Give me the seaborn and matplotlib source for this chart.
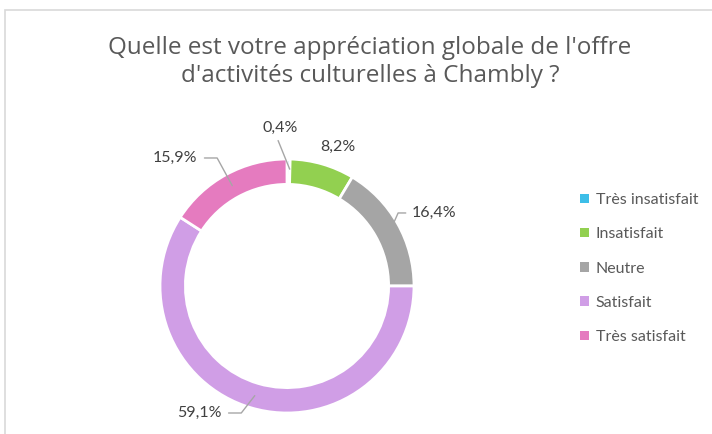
import numpy as np
import matplotlib
matplotlib.use("Agg")
import matplotlib.pyplot as plt
from matplotlib.patches import Patch, Rectangle
import seaborn as sns

# Data
categories = ["Très insatisfait", "Insatisfait", "Neutre", "Satisfait", "Très satisfait"]
values = [0.4, 8.2, 16.4, 59.1, 15.9]
labels = ["0,4%", "8,2%", "16,4%", "59,1%", "15,9%"]
colors = ["#3DBEE8", "#92D050", "#A5A5A5", "#D09EE6", "#E57BBF"]

sns.set_theme(style="white")
plt.rcParams["font.family"] = ["Lato", "DejaVu Sans"]

W, H = 712, 434
fig = plt.figure(figsize=(W / 100, H / 100), dpi=100)

# chart border (light gray frame)
fig.patches.append(Rectangle((5 / W, -0.1), 1.1, (H - 10) / H + 0.1, transform=fig.transFigure,
                             fill=False, edgecolor="#D9D9D9", linewidth=1.2))

# donut axes: center (287, 286) px, radius 127 px
cx, cy, r = 287, H - 286, 127
ax = fig.add_axes([(cx - r) / W, (cy - r) / H, 2 * r / W, 2 * r / H])
wedges, _ = ax.pie(values, colors=colors, startangle=90, counterclock=False, radius=1,
                   wedgeprops=dict(width=0.2, edgecolor="white", linewidth=2))
ax.set_xlim(-1, 1)
ax.set_ylim(-1, 1)
ax.set_aspect("equal")
ax.axis("off")

# label positions (data coords) and leader lines
lab_pos = [(-0.05, 1.245), (0.40, 1.094), (1.155, 0.575), (-0.69, -1.0), (-0.88, 1.008)]
line_col = "#A6A6A6"
for w, lab, (lx, ly), v in zip(wedges, labels, lab_pos, values):
    ax.text(lx, ly, lab, ha="center", va="center", fontsize=11.5, color="#404040", clip_on=False)
    ang = np.deg2rad((w.theta1 + w.theta2) / 2)
    ax_, ay_ = 0.9 * np.cos(ang), 0.9 * np.sin(ang)
    if lab == "8,2%":
        continue
    if lab == "0,4%":
        xs, ys = [ax_ + 0.01, lx - 0.02], [ay_ + 0.02, ly - 0.1]
    elif lx > 0:
        ex = lx - 0.22
        xs, ys = [ax_ + 0.06, ex - 0.06, ex], [ay_ + 0.06, ly, ly]
    else:
        ex = lx + 0.23
        xs, ys = [ax_, ex + 0.1, ex], [ay_, ly, ly]
    ax.plot(xs, ys, color=line_col, linewidth=1, clip_on=False)

fig.text(370 / W, 1 - 62 / H, "Quelle est votre appréciation globale de l'offre\nd'activités culturelles à Chambly ?",
         ha="center", va="center", fontsize=17.5, color="#595959", linespacing=1.2,
         family=["Open Sans", "DejaVu Sans"])

handles = [Patch(facecolor=c, edgecolor="none") for c in colors]
fig.legend(handles, categories, loc="upper left", bbox_to_anchor=(580 / W, 1 - 193 / H),
           frameon=False, fontsize=11.5, labelcolor="#595959", handlelength=0.55, handleheight=0.55,
           handletextpad=0.45, labelspacing=1.27, borderpad=0, borderaxespad=0)

fig.savefig("out.png", dpi=100)
